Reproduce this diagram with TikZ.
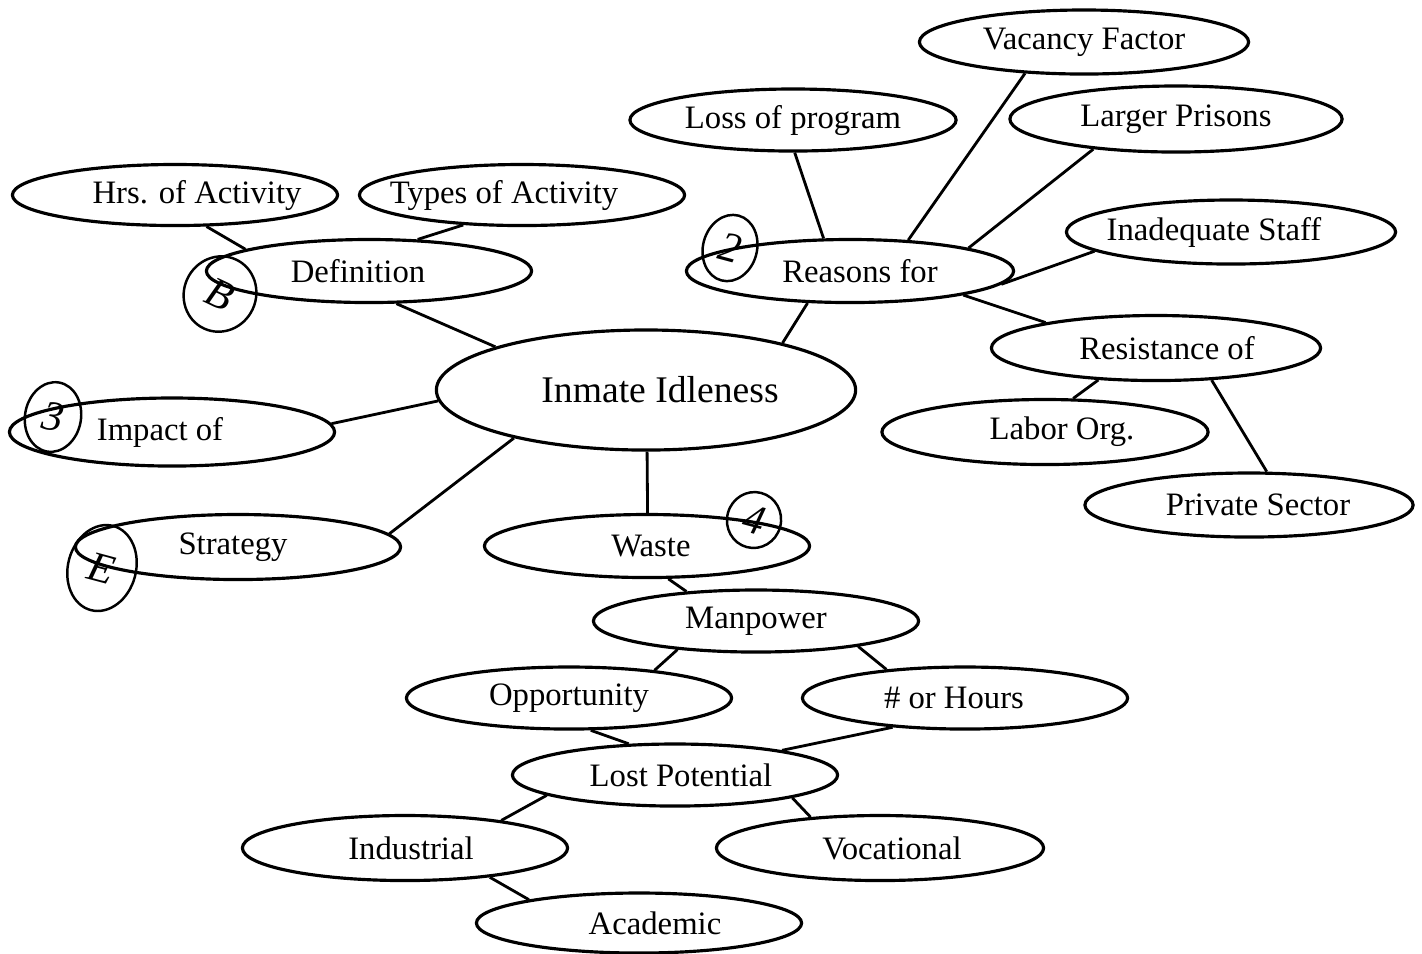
\documentclass[tikz,border=0pt]{standalone}
\usepackage{fontspec}
\setmainfont{Liberation Serif}
\usetikzlibrary{shapes.geometric}
\tikzset{bub/.style={draw,ellipse,line width=0.9pt,inner sep=0pt,minimum width=3.25cm,minimum height=0.63cm,font=\fontsize{9.3}{11}\selectfont}}
\tikzset{ln/.style={line width=0.8pt}}
\tikzset{hand/.style={draw,ellipse,line width=0.7pt,inner sep=0pt,font=\itshape\fontsize{12}{13}\selectfont}}
% text moved off the middle of its ellipse by #1
\newcommand{\shtxt}[2]{\makebox[0pt]{\hspace*{#1}\hspace*{#1}#2}}

\begin{document}
\begin{tikzpicture}[x=0.01cm, y=-0.01cm]
        \useasboundingbox (0,0) rectangle (1422,953);
        % centre
        \node[bub, minimum width=4.19cm, minimum height=1.2cm, font=\fontsize{10.7}{13}\selectfont] (idle) at (646,390) {\shtxt{0.14cm}{Inmate Idleness}};
        % left branch
        \node[bub] (defn) at (369,271) {\shtxt{-0.11cm}{Definition}};
        \node[bub, minimum height=0.61cm] (hrs) at (175,195) {\shtxt{0.22cm}{Hrs. of Activity}};
        \node[bub, minimum height=0.61cm] (types) at (522,195) {\shtxt{-0.18cm}{Types of Activity}};
        \node[bub, minimum height=0.68cm] (impact) at (172,432) {\shtxt{-0.12cm}{Impact of}};
        \node[bub, minimum height=0.65cm] (strat) at (238,547) {\shtxt{-0.05cm}{Strategy}};
        % lower branch
        \node[bub] (waste) at (647,546) {\shtxt{0.04cm}{Waste}};
        \node[bub, minimum height=0.62cm] (manp) at (756,621) {Manpower};
        \node[bub, minimum height=0.62cm] (opp) at (569,698) {Opportunity};
        \node[bub, minimum height=0.62cm] (hours) at (965,698) {\shtxt{-0.11cm}{\# or Hours}};
        \node[bub, minimum height=0.62cm] (lost) at (675,775) {\shtxt{0.06cm}{Lost Potential}};
        \node[bub, minimum height=0.65cm] (indus) at (405,848) {\shtxt{0.06cm}{Industrial}};
        \node[bub, minimum width=3.27cm, minimum height=0.65cm] (voc) at (880,848) {\shtxt{0.12cm}{Vocational}};
        \node[bub, minimum height=0.6cm] (acad) at (639,923) {\shtxt{0.16cm}{Academic}};
        % right branch
        \node[bub, minimum width=3.27cm] (reas) at (850,271) {\shtxt{0.1cm}{Reasons for}};
        \node[bub, minimum width=3.26cm, minimum height=0.62cm] (loss) at (793,120) {Loss of program};
        \node[bub, minimum width=3.29cm, minimum height=0.64cm] (vac) at (1084,42) {Vacancy Factor};
        \node[bub, minimum width=3.32cm, minimum height=0.66cm] (larg) at (1176,119) {Larger Prisons};
        \node[bub, minimum width=3.29cm, minimum height=0.64cm] (inad) at (1231,232) {\shtxt{-0.17cm}{Inadequate Staff}};
        \node[bub, minimum width=3.29cm, minimum height=0.65cm] (resist) at (1156,348) {\shtxt{0.11cm}{Resistance of}};
        \node[bub, minimum width=3.26cm, minimum height=0.65cm] (labor) at (1045,432) {\shtxt{0.17cm}{Labor Org.}};
        \node[bub, minimum width=3.28cm, minimum height=0.64cm] (priv) at (1249,505) {\shtxt{0.09cm}{Private Sector}};

        \draw[ln] (defn.-50) -- (idle.164);
        \draw[ln] (hrs.-45) -- (defn.170);
        \draw[ln] (types.-153) -- (defn.33);
        \draw[ln] (impact.3) -- (idle.183);
        \draw[ln] (strat.5) -- (idle.200);
        \draw[ln] (idle.-89) -- (waste.89);
        \draw[ln] (waste.-57) -- (manp.157);
        \draw[ln] (manp.-160) -- (opp.18);
        \draw[ln] (manp.-14) -- (hours.160);
        \draw[ln] (opp.-56) -- (lost.146);
        \draw[ln] (hours.-158) -- (lost.13);
        \draw[ln] (lost.-171) -- (indus.16);
        \draw[ln] (lost.-11) -- (voc.156);
        \draw[ln] (indus.-19) -- (acad.168);
        \draw[ln] (idle.19) -- (reas.-143);
        \draw[ln] (loss.-87) -- (reas.129);
        \draw[ln] (vac.-152) -- (reas.28);
        \draw[ln] (larg.-160) -- (reas.11);
        \draw[ln] (inad.-172) -- (reas.-5);
        \draw[ln] (reas.-12) -- (resist.167);
        \draw[ln] (resist.-151) -- (labor.50);
        \draw[ln] (resist.-30) -- (priv.62);

        % handwritten marks
        \node[hand, minimum width=0.72cm, minimum height=0.76cm, rotate=-25] (hB) at (220,294) {B};
        \node[hand, minimum width=0.56cm, minimum height=0.7cm, rotate=-10] (h3) at (53,417) {3};
        \node[hand, minimum width=0.68cm, minimum height=0.87cm, rotate=-15] (hE) at (102,568) {E};
        \node[hand, minimum width=0.54cm, minimum height=0.67cm, rotate=-15] (h2) at (730,248) {2};
        \node[hand, minimum width=0.54cm, minimum height=0.56cm, rotate=-15] (h4) at (754,520) {4};
    \end{tikzpicture}
\end{document}
